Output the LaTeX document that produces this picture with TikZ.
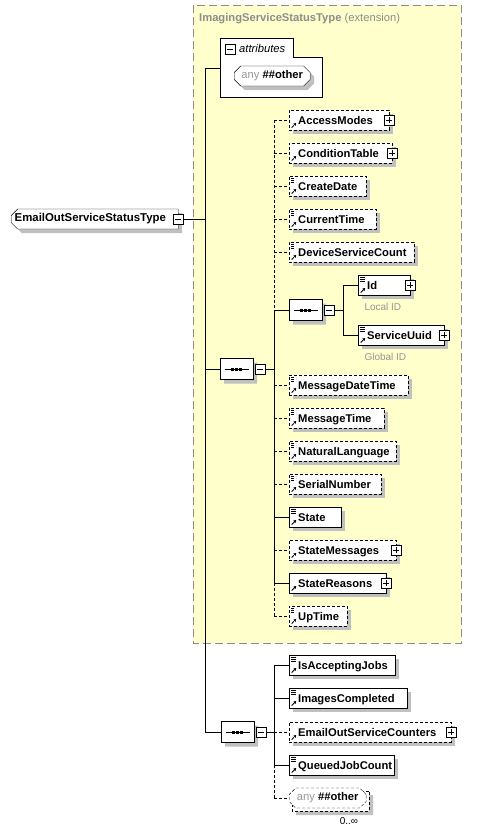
\documentclass[tikz,border=0pt]{standalone}
\usepackage{fontspec}
\setmainfont{Liberation Sans}
\usetikzlibrary{arrows.meta,positioning,shapes.misc,shadows}

\definecolor{extfill}{RGB}{255,255,204}
\definecolor{extline}{RGB}{140,140,140}
\definecolor{shadowgray}{RGB}{192,192,192}
\definecolor{notegray}{RGB}{150,150,150}

\begin{document}
\begin{tikzpicture}[x=1pt, y=-1pt,
  font=\fontsize{11.2}{13}\selectfont,
  xshadow/.style={drop shadow={shadow xshift=4pt, shadow yshift=-4pt, fill=shadowgray, opacity=1}},
  opt/.style={dash pattern=on 3pt off 2pt},
  elem/.style={draw, fill=white, xshadow, anchor=west, minimum height=20pt,
    inner sep=0pt, text width=#1, align=left, text height=8pt, text depth=0pt,
    font=\fontsize{11.2}{13}\selectfont\bfseries,
    execute at begin node={\hyphenpenalty=10000\exhyphenpenalty=10000\hspace*{9pt}}},
  cplx/.style={path picture={
    \draw[line width=0.8pt, -{Triangle[length=2.5pt, width=3pt]}]
      ([shift={(2.5pt,2.5pt)}]path picture bounding box.south west) -- ++(4.5pt,4.5pt);}},
  smpl/.style={path picture={
    \draw[line width=0.8pt, -{Triangle[length=2.5pt, width=3pt]}]
      ([shift={(2.5pt,2.5pt)}]path picture bounding box.south west) -- ++(4.5pt,4.5pt);
    \foreach \k in {2,4,6}
      \draw[line width=0.8pt] ([shift={(2pt,-\k pt)}]path picture bounding box.north west) -- ++(5pt,0pt);}},
  pmbox/.style={draw, line width=1pt, fill=white, minimum size=10pt, inner sep=0pt},
  xplus/.style={pmbox, path picture={
    \draw[line width=0.9pt] (path picture bounding box.center) +(-3pt,0pt) -- +(3pt,0pt)
      +(0pt,-3pt) -- +(0pt,3pt);}},
  xminus/.style={pmbox, path picture={
    \draw[line width=0.9pt] (path picture bounding box.center) +(-3pt,0pt) -- +(3pt,0pt);}},
  seqnode/.style={chamfered rectangle, chamfered rectangle xsep=5pt, draw, fill=white, xshadow,
    anchor=west, minimum width=33pt, minimum height=21pt, inner sep=0pt,
    path picture={
      \draw[black] (path picture bounding box.center) +(-12pt,0pt) -- +(12pt,0pt);
      \foreach \d in {-4,0,4}
        \fill[black] ([shift={(\d pt-1.5pt,-1.5pt)}]path picture bounding box.center) rectangle ++(3pt,3pt);}},
  anynode/.style={chamfered rectangle, chamfered rectangle xsep=3pt, draw, fill=white,
    anchor=west, minimum width=#1, minimum height=20pt, inner sep=0pt},
  note/.style={anchor=west, text=notegray, font=\fontsize{10}{12}\selectfont}
]
\useasboundingbox (0,0) rectangle (479,833);

% extension base type
\draw[extline, fill=extfill, dash pattern=on 8pt off 4pt] (193,5) rectangle (461,643);
\node[anchor=west, inner sep=0pt, text=extline] (exttitle) at (199,19)
  {\textbf{ImagingServiceStatusType} (extension)};

% attributes
\draw[fill=white] (220,38) -- (293,38) -- (293,57) -- (322,57) -- (322,97) -- (220,97) -- cycle;
\node[xminus] (attrm) at (230,49) {};
\node[anchor=west, inner sep=0pt, font=\fontsize{11.2}{13}\selectfont\itshape] (attrt) at (239,48) {attributes};
\node[anynode=76pt, xshadow] (anyA) at (234,76) {\textcolor{notegray}{any}\ \textbf{\#\#other}};
\coordinate (attrin) at (220,68);

% root
\node[chamfered rectangle, chamfered rectangle corners={north west,south west},
  chamfered rectangle xsep=3pt, draw, fill=white, xshadow, anchor=west,
  minimum width=167pt, minimum height=20pt, inner sep=0pt, text width=160pt, align=left,
  font=\fontsize{11.4}{13}\selectfont\bfseries] (root) at (11,219) {EmailOutServiceStatusType};
\node[xminus] (rootm) at (root.east) {};

% first sequence
\node[seqnode] (seqA) at (220,369) {};
\node[xminus, right=1.5pt of seqA] (seqAm) {};
\coordinate (brA) at (274,369);

\node[elem=100pt, opt, cplx] (accessmodes) at (289,120) {AccessModes};
\node[xplus] (accessmodesx) at (accessmodes.east) {};
\node[elem=103pt, opt, cplx] (conditiontable) at (289,153) {ConditionTable};
\node[xplus] (conditiontablex) at (conditiontable.east) {};
\node[elem=77pt, opt, smpl] (createdate) at (289,186) {CreateDate};
\node[elem=87pt, opt, smpl] (currenttime) at (289,219) {CurrentTime};
\node[elem=125pt, opt, smpl] (devcount) at (289,252) {DeviceServiceCount};

% nested sequence
\node[seqnode] (seqC) at (289,310) {};
\node[xminus, right=1.5pt of seqC] (seqCm) {};
\coordinate (brC) at (343,310);
\node[elem=52pt, smpl] (id) at (358,285) {Id};
\node[xplus] (idx) at (id.east) {};
\node[note] (idnote) at (361,307) {Local ID};
\node[elem=86pt, smpl] (serviceuuid) at (358,335) {ServiceUuid};
\node[xplus] (serviceuuidx) at (serviceuuid.east) {};
\node[note] (uuidnote) at (361,357) {Global ID};

\node[elem=119pt, opt, smpl] (msgdatetime) at (289,385) {MessageDateTime};
\node[elem=95pt, opt, smpl] (msgtime) at (289,418) {MessageTime};
\node[elem=107pt, opt, smpl] (natlang) at (289,451) {NaturalLanguage};
\node[elem=92pt, opt, smpl] (serial) at (289,484) {SerialNumber};
\node[elem=52pt, smpl] (state) at (289,517) {State};
\node[elem=107pt, opt, cplx] (statemsgs) at (289,550) {StateMessages};
\node[xplus] (statemsgsx) at (statemsgs.east) {};
\node[elem=97pt, cplx] (statereasons) at (289,583) {StateReasons};
\node[xplus] (statereasonsx) at (statereasons.east) {};
\node[elem=58pt, opt, smpl] (uptime) at (289,616) {UpTime};

% second sequence
\node[seqnode] (seqB) at (221,732) {};
\node[xminus, right=1.5pt of seqB] (seqBm) {};
\coordinate (brB) at (274,732);

\node[elem=106pt, smpl] (accepting) at (289,665) {IsAcceptingJobs};
\node[elem=118pt, smpl] (images) at (289,698) {ImagesCompleted};
\node[elem=162pt, opt, cplx] (counters) at (289,732) {EmailOutServiceCounters};
\node[xplus] (countersx) at (counters.east) {};
\node[elem=105pt, smpl] (queued) at (289,765) {QueuedJobCount};
\node[anynode=77pt, opt, fill=white, xshadow] (anyBback) at (292,801) {};
\node[anynode=77pt, opt] (anyB) at (289,798) {\textcolor{notegray}{any}\ \textbf{\#\#other}};
\node[font=\fontsize{10}{12}\selectfont, inner sep=0pt] (anyBocc) at (349,821) {0..∞};

% connectors
\coordinate (trunk) at (205,219);
\draw (rootm.east) -- (trunk);
\draw (trunk |- attrin) -- (trunk |- seqB);
\draw (trunk |- attrin) -- (attrin);
\draw (trunk |- seqA) -- (seqA.west);
\draw (trunk |- seqB) -- (seqB.west);

\draw (seqAm.east) -- (brA);
\draw[opt] (brA |- accessmodes) -- (brA |- seqC);
\draw (brA |- seqC) -- (brA |- statereasons);
\draw[opt] (brA |- statereasons) -- (brA |- uptime);
\draw[opt] (brA |- accessmodes) -- (accessmodes.west);
\draw[opt] (brA |- conditiontable) -- (conditiontable.west);
\draw[opt] (brA |- createdate) -- (createdate.west);
\draw[opt] (brA |- currenttime) -- (currenttime.west);
\draw[opt] (brA |- devcount) -- (devcount.west);
\draw (brA |- seqC) -- (seqC.west);
\draw[opt] (brA |- msgdatetime) -- (msgdatetime.west);
\draw[opt] (brA |- msgtime) -- (msgtime.west);
\draw[opt] (brA |- natlang) -- (natlang.west);
\draw[opt] (brA |- serial) -- (serial.west);
\draw (brA |- state) -- (state.west);
\draw[opt] (brA |- statemsgs) -- (statemsgs.west);
\draw (brA |- statereasons) -- (statereasons.west);
\draw[opt] (brA |- uptime) -- (uptime.west);

\draw (seqCm.east) -- (brC);
\draw (brC |- id) -- (brC |- serviceuuid);
\draw (brC |- id) -- (id.west);
\draw (brC |- serviceuuid) -- (serviceuuid.west);

\draw (seqBm.east) -- (brB);
\draw (brB |- accepting) -- (brB |- queued);
\draw[opt] (brB |- queued) -- (brB |- anyB);
\draw (brB |- accepting) -- (accepting.west);
\draw (brB |- images) -- (images.west);
\draw[opt] (brB |- counters) -- (counters.west);
\draw (brB |- queued) -- (queued.west);
\draw[opt] (brB |- anyB) -- (anyB.west);
\end{tikzpicture}
\end{document}
